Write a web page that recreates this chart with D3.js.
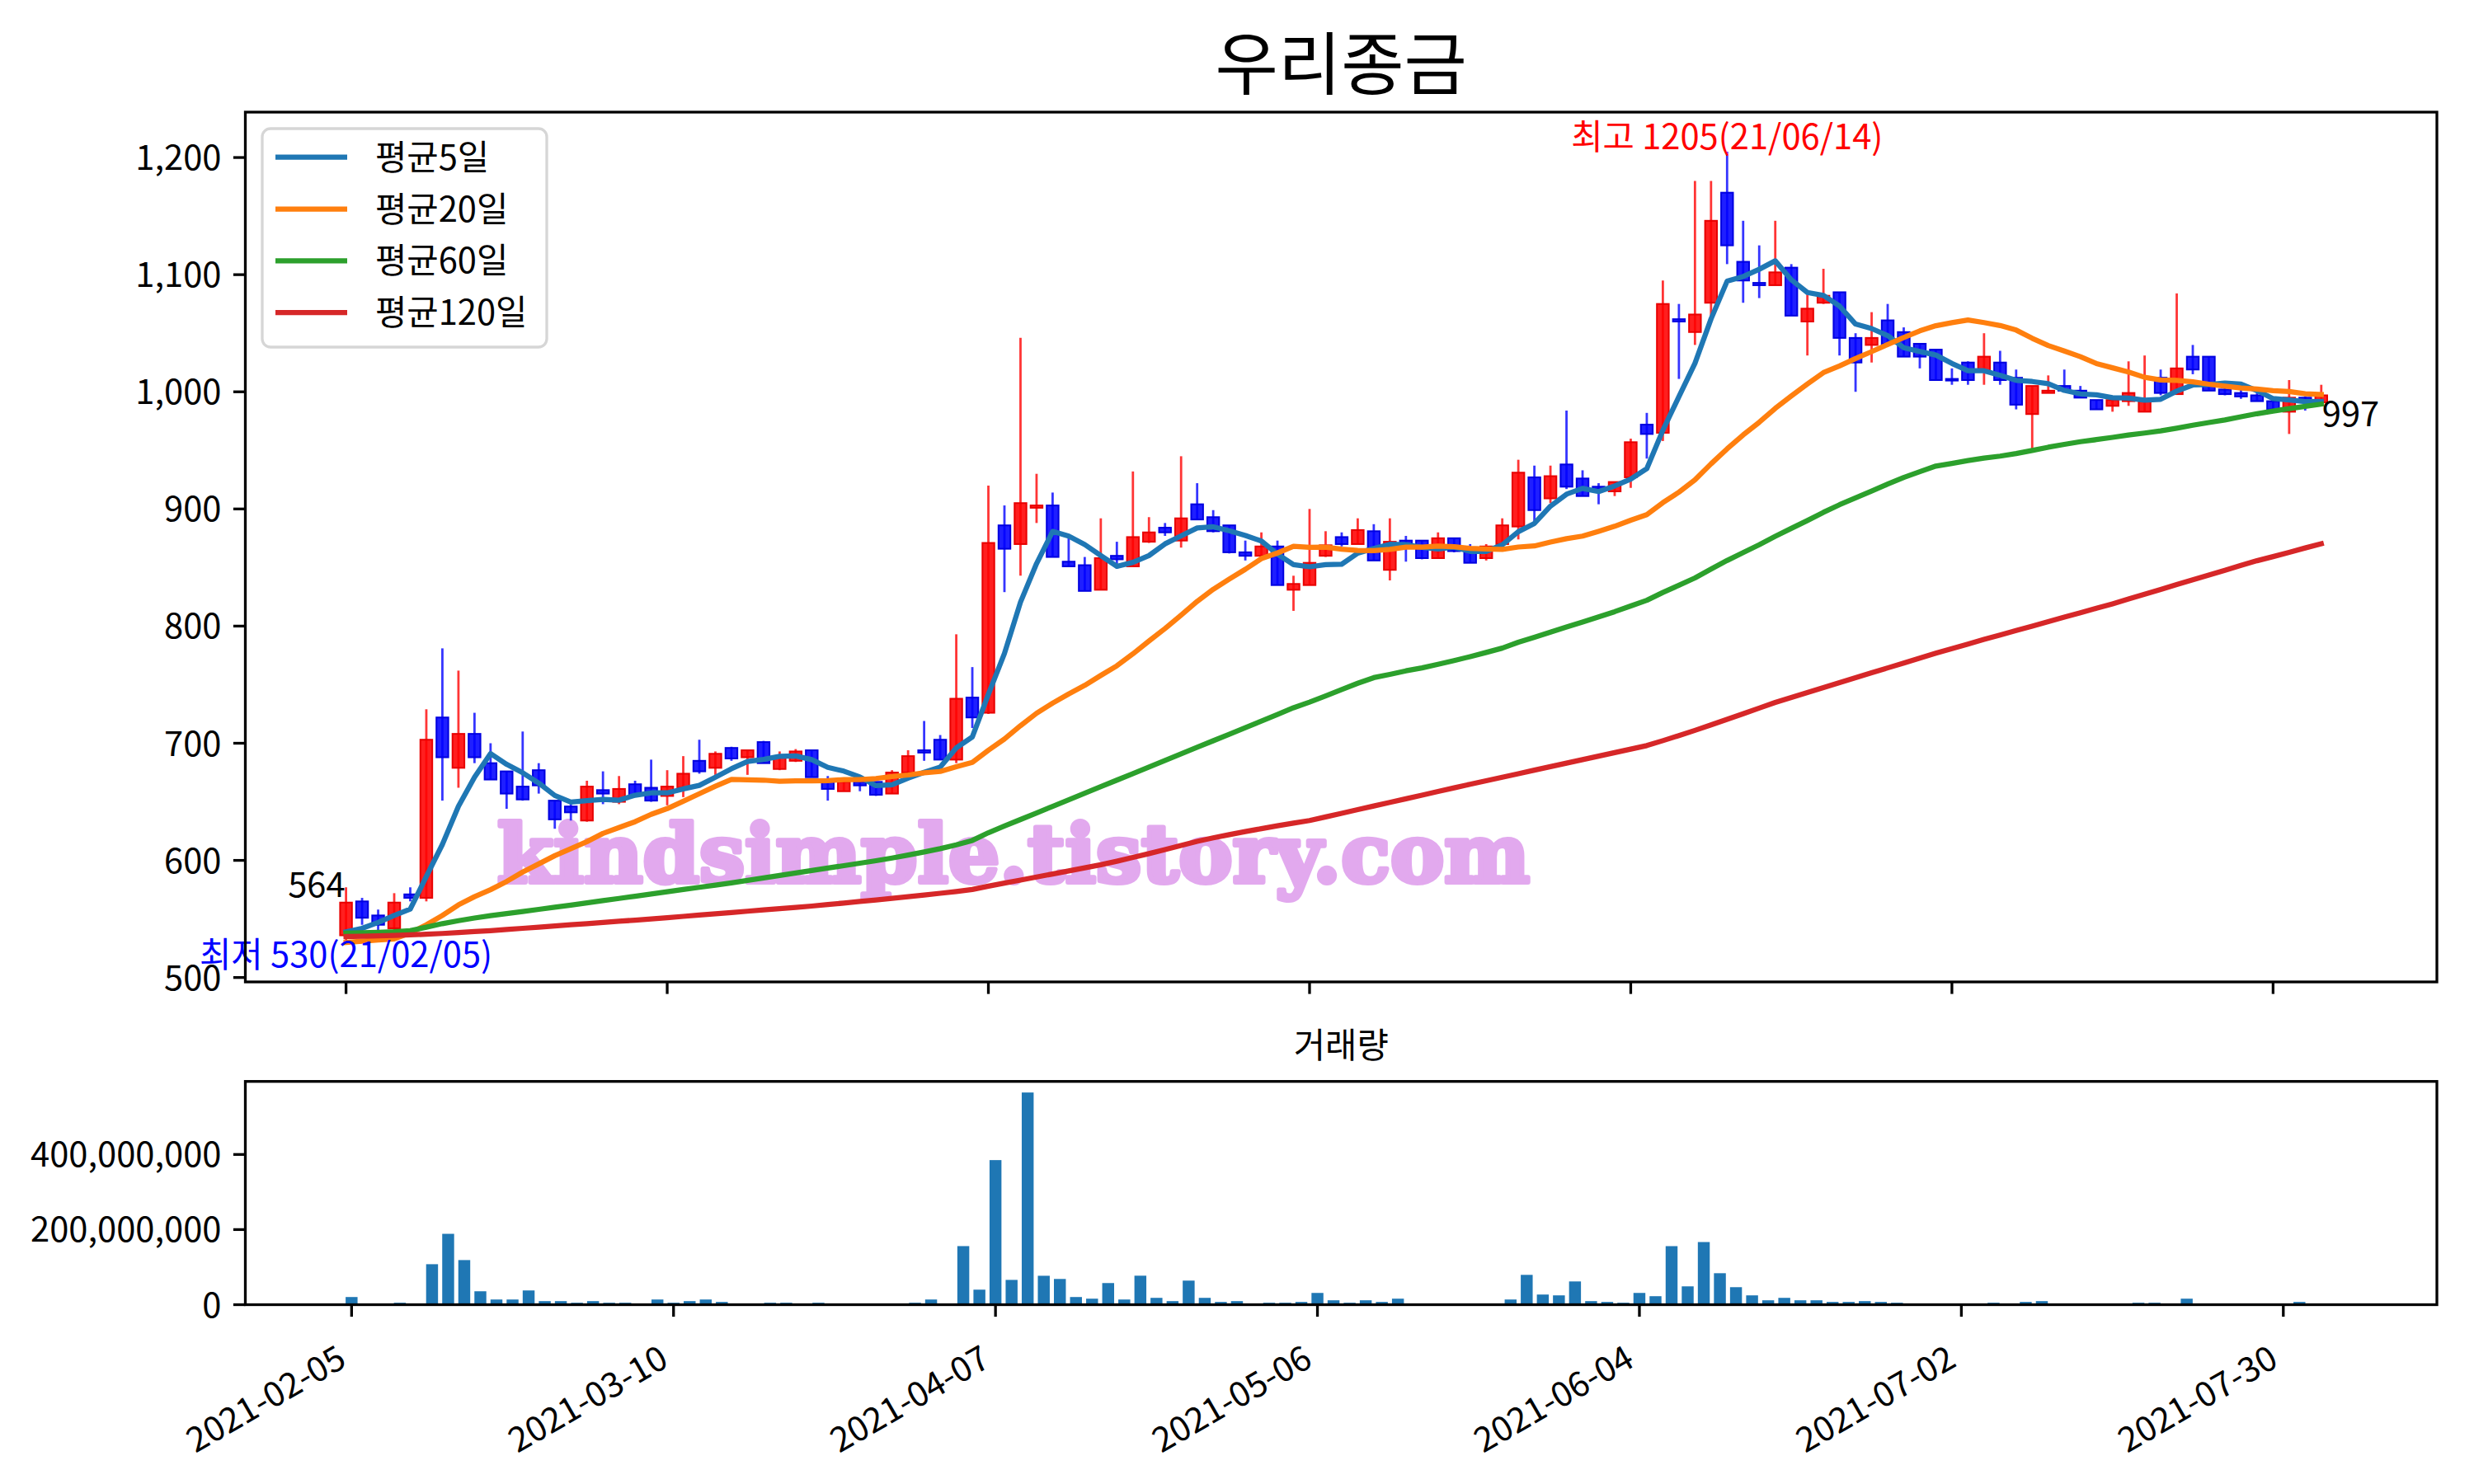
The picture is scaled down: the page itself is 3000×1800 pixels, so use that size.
<!DOCTYPE html>
<html>
<head>
<meta charset="utf-8">
<script src="https://cdn.jsdelivr.net/npm/d3@7"></script>
<style>
  body { margin: 0; background: #fff; }
  text { font-family: "Noto Sans CJK KR", "Noto Sans", sans-serif; }
</style>
</head>
<body>
<div id="chart"></div>
<script>
// daily prices, index 0 = 2021-02-05 ... index 123 = 2021-08-04
const opens = [536,565,553,542,571,568,722,679,708,683, 676,663,677,651,646,634,660,650,665,662,
  655,662,685,679,696,688,701,678,685,694, 667,659,667,667,657,675,694,703,686,739,
  726,886,870,901,903,855,852,831,860,851, 872,884,873,904,893,886,863,860,868,831,
  835,860,876,870,881,848,873,873,858,875, 865,858,870,885,927,909,938,926,919,915,
  927,972,965,1062,1051,1076,1170,1111,1093,1091, 1106,1060,1076,1085,1046,1040,1061,1051,1041,1036,
  1011,1025,1018,1025,1012,981,999,1005,1001,993, 988,992,983,1012,998,1030,1030,1002,999,997,
  992,983,995,991];
const highs = [577,568,558,572,577,729,781,762,726,700, 676,710,683,651,648,668,676,672,668,686,
  677,689,703,693,697,694,702,693,695,694, 672,667,672,667,677,694,719,707,793,765,
  920,903,1046,930,914,875,859,892,872,932, 893,888,945,922,899,886,873,880,873,843,
  900,881,880,892,887,892,877,873,880,875, 870,870,892,942,937,937,984,933,922,923,
  960,982,1095,1075,1180,1180,1205,1146,1125,1146, 1109,1083,1105,1085,1050,1068,1075,1055,1041,1036,
  1020,1026,1050,1035,1019,1005,1014,1019,1005,993, 993,1026,1031,1019,1084,1040,1030,1009,1003,1003,
  994,1010,996,1006];
const lows = [530,545,540,540,565,565,651,662,683,669, 644,651,657,627,634,633,648,648,655,650,
  647,654,674,673,685,673,683,677,684,671, 651,659,659,655,657,674,685,686,683,713,
  725,829,843,888,859,851,830,831,849,851, 871,877,867,891,880,862,856,860,835,813,
  835,859,868,870,856,839,855,857,858,863, 854,856,870,874,887,905,917,911,904,911,
  918,943,958,1011,1040,1065,1109,1076,1080,1091, 1065,1031,1075,1031,1000,1025,1041,1030,1020,1010,
  1006,1006,1006,1006,985,951,999,1001,995,985, 983,988,983,997,998,1015,1001,997,994,992,
  985,964,984,991];
const closes = [564,551,545,564,568,703,688,708,688,669, 657,652,664,635,641,663,657,661,656,651,
  663,674,676,691,687,694,683,689,693,671, 661,667,664,656,675,689,692,686,738,722,
  871,866,905,903,859,851,830,858,857,876, 880,880,892,891,881,863,860,868,835,836,
  854,869,870,882,856,872,868,858,875,864, 854,868,886,931,899,928,919,911,917,923,
  957,964,1075,1060,1066,1146,1125,1095,1091,1102, 1065,1071,1082,1046,1025,1046,1041,1030,1030,1010,
  1010,1010,1030,1010,989,1005,1001,1001,995,985, 993,999,992,999,1020,1019,1001,998,996,992,
  985,995,991,997];
const volumes = [20.4e6,2.9e6,0.8e6,5.1e6,2.9e6,107.8e6,188.7e6,118.8e6,35.7e6,13.8e6,
  13.8e6,37.9e6,9.5e6,9.5e6,5.1e6,9.5e6,5.1e6,5.1e6,2.9e6,13.8e6,
  5.1e6,9.5e6,13.8e6,7.3e6,2.9e6,2.9e6,5.1e6,5.1e6,2.9e6,5.1e6,
  2.9e6,0.8e6,0.8e6,0.8e6,0.8e6,5.1e6,13.8e6,2.9e6,156e6,40e6,
  385e6,66e6,565e6,77e6,68.5e6,20.4e6,16e6,57.6e6,13.8e6,77.2e6,
  18.2e6,9.5e6,64.1e6,18.2e6,7.3e6,9.5e6,2.9e6,5.1e6,5.1e6,7.3e6,
  31.3e6,11.7e6,5.1e6,11.7e6,7.3e6,16e6,2.9e6,2.9e6,2.9e6,2.9e6,
  2.9e6,2.9e6,13.8e6,79.4e6,27e6,24.8e6,61.9e6,9.5e6,7.3e6,5.1e6,
  31.3e6,22.6e6,155.9e6,48.8e6,166.8e6,83.8e6,46.6e6,24.8e6,11.7e6,18.2e6,
  11.7e6,11.7e6,7.3e6,7.3e6,9.5e6,7.3e6,5.1e6,2.9e6,2.9e6,2.9e6,
  2.9e6,2.9e6,5.1e6,2.9e6,7.3e6,9.5e6,0.8e6,2.9e6,2.9e6,2.9e6,
  0.8e6,5.1e6,5.1e6,2.9e6,16e6,2.9e6,2.9e6,0.8e6,0.8e6,0.8e6,
  2.9e6,7.3e6,0.8e6,2.9e6];

// moving averages
const ma5 = [539,542,547,553,558.4,586.2,613.6,646.2,671.0,691.2, 682.0,674.8,666.0,655.4,649.8,651.0,652.0,651.4,655.6,657.6,
  657.6,661.0,664.0,671.0,678.2,684.4,686.2,688.8,689.2,686.0, 679.4,676.2,671.2,663.8,664.6,670.2,675.2,679.6,696.0,705.4,
  741.8,776.6,820.4,853.4,880.8,876.8,869.6,860.2,851.0,854.4, 860.2,870.2,877.0,883.8,884.8,881.4,877.4,872.6,861.4,852.4,
  850.6,852.4,852.8,862.2,866.2,869.8,869.6,867.2,865.8,867.4, 863.8,863.8,869.4,880.6,887.6,902.4,912.6,917.6,914.8,919.6,
  925.4,934.4,967.2,995.8,1024.4,1062.2,1094.4,1098.4,1104.6,1111.8, 1095.6,1084.8,1082.2,1073.2,1057.8,1054.0,1048.0,1037.6,1034.4,1031.4,
  1024.2,1018.0,1018.0,1014.0,1009.8,1008.8,1007.0,1001.2,998.2,997.4, 995.0,994.6,992.8,993.6,1000.6,1005.8,1006.2,1007.4,1006.6,1001.0,
  994.2,993.0,991.6,991.8];
const ma20 = [530,531,532,533,538,545,553,562,569,575, 582,590,597,604,610,616,623,628,633,639.3,
  644.2,650.4,656.9,663.3,669.2,668.8,668.5,667.6,667.8,667.9, 668.1,668.9,668.9,669.9,671.6,672.9,674.7,675.9,680.0,683.6,
  694.0,703.6,715.0,725.6,734.2,742.1,749.4,757.9,766.1,776.3, 787.3,797.9,809.3,821.1,831.4,840.1,848.5,857.6,862.4,868.1,
  867.3,867.4,865.7,864.6,864.5,865.5,867.4,867.4,868.3,867.7, 866.4,865.8,865.5,867.5,868.4,871.7,874.6,876.8,880.9,885.2,
  890.4,895.1,905.4,914.3,924.8,938.5,951.3,963.2,974.0,985.9, 996.4,1006.6,1016.4,1022.1,1028.4,1034.3,1040.4,1046.4,1052.0,1056.4,
  1059.0,1061.3,1059.1,1056.6,1052.7,1045.7,1039.5,1034.8,1030.0,1024.1, 1020.5,1016.9,1012.4,1010.1,1009.8,1008.5,1006.5,1004.9,1003.2,1002.3,
  1001.0,1000.3,998.3,997.7];
const ma60 = [537.8,538.2,538.6,539.1,540.0,543.0,546.0,548.5,550.8,552.8, 554.6,556.4,558.2,560.0,561.8,563.7,565.6,567.5,569.4,571.3,
  573.2,575.1,577.0,578.9,580.8,582.9,585.0,587.1,589.2,591.3, 593.4,595.5,597.6,599.7,602.0,604.5,607.2,610.0,613.2,617.0,
  623.6,629.3,634.9,640.5,646.1,651.7,657.3,662.9,668.5,674.1, 679.7,685.3,690.9,696.5,702.1,707.7,713.3,718.9,724.6,730.3,
  735.1,740.4,745.9,751.2,756.0,758.8,761.8,764.3,767.4,770.6, 773.9,777.5,781.2,786.2,790.5,794.9,799.2,803.4,807.8,812.3,
  817.2,822.0,828.7,834.8,841.1,848.7,856.0,862.8,869.4,876.6, 883.4,890.1,897.1,903.6,909.4,915.3,921.2,926.9,931.8,936.6,
  938.9,941.3,943.4,945.1,947.3,949.9,952.7,955.1,957.4,959.2, 961.1,963.1,964.8,966.6,968.9,971.5,973.8,976.0,978.7,981.3,
  983.5,985.6,987.6,989.5];
const ma120 = [535.0,535.3,535.6,536.0,536.4,536.9,537.6,538.4,539.2,540.0, 541.0,542.0,543.0,544.0,545.0,546.0,547.0,548.0,549.0,550.0,
  551.1,552.2,553.3,554.4,555.5,556.6,557.7,558.8,559.9,561.0, 562.3,563.6,564.9,566.2,567.6,569.0,570.4,571.9,573.4,575.2,
  578.0,580.6,583.2,585.8,588.4,591.0,593.6,596.3,599.3,602.5, 605.8,609.2,612.7,616.2,619.2,622.0,624.6,627.1,629.5,631.8,
  634.0,637.1,640.2,643.3,646.4,649.5,652.6,655.7,658.8,661.9, 665.0,668.0,671.0,674.0,677.0,680.0,683.0,686.0,689.0,692.0,
  695.0,698.0,702.2,706.5,711.0,715.7,720.4,725.2,730.0,734.8, 739.1,743.3,747.5,751.7,755.9,760.1,764.3,768.5,772.7,776.9,
  780.8,784.7,788.6,792.4,796.2,800.0,803.8,807.6,811.4,815.2, 819.0,823.1,827.2,831.3,835.4,839.5,843.6,847.7,851.8,855.8,
  859.3,863.0,866.7,870.3];

const tickIdx = [0, 20, 40, 60, 80, 100, 120];
const tickLabels = ["2021-02-05", "2021-03-10", "2021-04-07", "2021-05-06", "2021-06-04", "2021-07-02", "2021-07-30"];
const priceTicks = [500, 600, 700, 800, 900, 1000, 1100, 1200];
const volTicks = [0, 200000000, 400000000];
const maNames = ["평균5일", "평균20일", "평균60일", "평균120일"];
const maColors = ["#1f77b4", "#ff7f0e", "#2ca02c", "#d62728"];

const width = 3000, height = 1800;
const fs = 41.7;
const main = { left: 297.5, right: 2955, top: 136, bottom: 1191 };
const vol = { left: 297.5, right: 2955, top: 1311.7, bottom: 1582.5 };

const svg = d3.select("#chart").append("svg")
  .attr("width", width).attr("height", height)
  .style("background", "#fff");

const x = d3.scaleLinear().domain([-6.27, 130.2]).range([main.left, main.right]);
const y = d3.scaleLinear().domain([496.25, 1238.75]).range([main.bottom, main.top]);
const xv = d3.scaleLinear().domain([-6.6, 129.54]).range([vol.left, vol.right]);
const yv = d3.scaleLinear().domain([0, 594.5e6]).range([vol.bottom, vol.top]);

// title
svg.append("text")
  .attr("x", (main.left + main.right) / 2).attr("y", 108)
  .attr("text-anchor", "middle").attr("font-size", 83)
  .text("우리종금");

// watermark
svg.append("text")
  .attr("x", 603).attr("y", 1070)
  .attr("textLength", 1252).attr("lengthAdjust", "spacingAndGlyphs")
  .attr("font-size", 98).attr("font-weight", "bold")
  .style("font-family", "'DejaVu Serif', 'Liberation Serif', serif")
  .attr("fill", "#e2a9ee")
  .attr("stroke", "#e2a9ee").attr("stroke-width", 6).attr("stroke-linejoin", "round")
  .text("kindsimple.tistory.com");

// candles
const candles = closes.map((c, i) => ({ i, o: opens[i], h: highs[i], l: lows[i], c }));
const half = (x(0.37) - x(0));
const up = d => d.c >= d.o;

const cg = svg.append("g");
cg.selectAll("line.wick").data(candles).join("line")
  .attr("class", "wick")
  .attr("x1", d => x(d.i)).attr("x2", d => x(d.i))
  .attr("y1", d => y(d.h)).attr("y2", d => y(d.l))
  .attr("stroke", d => up(d) ? "#ff3535" : "#3535ff")
  .attr("stroke-width", 2.8);

cg.selectAll("rect.body").data(candles).join("rect")
  .attr("class", "body")
  .attr("x", d => x(d.i) - half)
  .attr("width", half * 2)
  .attr("y", d => y(Math.max(d.o, d.c)))
  .attr("height", d => Math.max(y(Math.min(d.o, d.c)) - y(Math.max(d.o, d.c)), 2))
  .attr("fill", d => up(d) ? "#ff0000" : "#0000ff")
  .attr("fill-opacity", 0.88)
  .attr("stroke", d => up(d) ? "#e80000" : "#0000e0")
  .attr("stroke-width", 2);

// moving average lines
const maSeries = [ma5, ma20, ma60, ma120];
const line = d3.line().x((d, i) => x(i)).y(d => y(d));
maSeries.forEach((s, k) => {
  svg.append("path")
    .datum(s)
    .attr("d", line)
    .attr("fill", "none")
    .attr("stroke", maColors[k])
    .attr("stroke-width", 6.25)
    .attr("stroke-linejoin", "round")
    .attr("stroke-linecap", "square");
});

// annotations
const hiIdx = d3.maxIndex(highs), loIdx = d3.minIndex(lows);
svg.append("text")
  .attr("x", x(hiIdx)).attr("y", 181)
  .attr("text-anchor", "middle").attr("font-size", fs)
  .attr("fill", "red")
  .text(`최고 ${highs[hiIdx]}(21/06/14)`);
svg.append("text")
  .attr("x", x(loIdx)).attr("y", y(lows[loIdx]) + 30)
  .attr("text-anchor", "middle").attr("font-size", fs)
  .attr("fill", "blue")
  .text(`최저 ${lows[loIdx]}(21/02/05)`);
svg.append("text")
  .attr("x", x(0) - 1).attr("y", y(closes[0]) - 7)
  .attr("text-anchor", "end").attr("font-size", fs)
  .text(closes[0]);
const last = closes.length - 1;
svg.append("text")
  .attr("x", x(last) + 1).attr("y", y(closes[last]) + 38)
  .attr("text-anchor", "start").attr("font-size", fs)
  .text(closes[last]);

// main axes frame + ticks
svg.append("rect")
  .attr("x", main.left).attr("y", main.top)
  .attr("width", main.right - main.left).attr("height", main.bottom - main.top)
  .attr("fill", "none").attr("stroke", "#000").attr("stroke-width", 3.3);

const yAxis = svg.append("g");
priceTicks.forEach(t => {
  yAxis.append("line")
    .attr("x1", main.left - 14.6).attr("x2", main.left)
    .attr("y1", y(t)).attr("y2", y(t))
    .attr("stroke", "#000").attr("stroke-width", 3.3);
  yAxis.append("text")
    .attr("x", main.left - 29).attr("y", y(t))
    .attr("dy", "0.36em")
    .attr("text-anchor", "end").attr("font-size", fs)
    .text(d3.format(",")(t));
});
tickIdx.forEach(t => {
  svg.append("line")
    .attr("x1", x(t)).attr("x2", x(t))
    .attr("y1", main.bottom).attr("y2", main.bottom + 14.6)
    .attr("stroke", "#000").attr("stroke-width", 3.3);
});

// legend
const legend = svg.append("g");
legend.append("rect")
  .attr("x", 318).attr("y", 156).attr("width", 345).attr("height", 265)
  .attr("rx", 10).attr("ry", 10)
  .attr("fill", "#fff").attr("fill-opacity", 0.8)
  .attr("stroke", "#d6d6d6").attr("stroke-width", 3.3);
maNames.forEach((name, k) => {
  const ly = 190.7 + k * 62.8;
  legend.append("line")
    .attr("x1", 334).attr("x2", 421)
    .attr("y1", ly).attr("y2", ly)
    .attr("stroke", maColors[k]).attr("stroke-width", 6.25);
  legend.append("text")
    .attr("x", 455).attr("y", ly).attr("dy", "0.36em")
    .attr("font-size", fs)
    .text(name);
});

// volume panel
svg.append("text")
  .attr("x", (vol.left + vol.right) / 2).attr("y", 1283)
  .attr("text-anchor", "middle").attr("font-size", fs)
  .text("거래량");

svg.append("g").selectAll("rect").data(volumes).join("rect")
  .attr("x", (d, i) => xv(i - 0.37))
  .attr("width", xv(0.74) - xv(0))
  .attr("y", d => yv(d))
  .attr("height", d => yv(0) - yv(d))
  .attr("fill", "#1f77b4");

svg.append("rect")
  .attr("x", vol.left).attr("y", vol.top)
  .attr("width", vol.right - vol.left).attr("height", vol.bottom - vol.top)
  .attr("fill", "none").attr("stroke", "#000").attr("stroke-width", 3.3);

volTicks.forEach(t => {
  svg.append("line")
    .attr("x1", vol.left - 14.6).attr("x2", vol.left)
    .attr("y1", yv(t)).attr("y2", yv(t))
    .attr("stroke", "#000").attr("stroke-width", 3.3);
  svg.append("text")
    .attr("x", vol.left - 29).attr("y", yv(t))
    .attr("dy", "0.36em")
    .attr("text-anchor", "end").attr("font-size", fs)
    .text(d3.format(",")(t));
});

tickIdx.forEach((t, k) => {
  const tx = xv(t);
  svg.append("line")
    .attr("x1", tx).attr("x2", tx)
    .attr("y1", vol.bottom).attr("y2", vol.bottom + 14.6)
    .attr("stroke", "#000").attr("stroke-width", 3.3);
  svg.append("text")
    .attr("transform", `translate(${tx - 4},${1656}) rotate(-30)`)
    .attr("text-anchor", "end").attr("font-size", fs)
    .text(tickLabels[k]);
});
</script>
</body>
</html>
